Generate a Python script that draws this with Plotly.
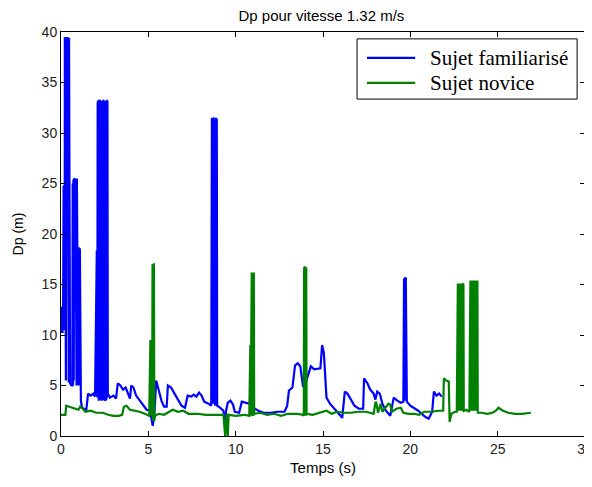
import plotly.graph_objects as go

# Sujet familiarise (bleu) : temps (s) et Dp (m)
blue_t = [0.00, 0.03, 0.06, 0.09, 0.12, 0.15, 0.18, 0.21,
          0.22, 0.24, 0.26, 0.28, 0.30, 0.32, 0.34, 0.36, 0.38, 0.40, 0.42, 0.44, 0.46, 0.48, 0.50, 0.52,
          0.60, 0.65,
          0.67, 0.69, 0.71, 0.73, 0.75, 0.77, 0.79, 0.81, 0.83, 0.85, 0.87, 0.89, 0.91, 0.93,
          0.96, 0.98, 1.00, 1.02, 1.04, 1.06, 1.08, 1.10, 1.12, 1.14,
          1.20, 1.30, 1.45, 1.55, 1.70, 1.85, 1.95,
          2.05, 2.08, 2.10, 2.12, 2.14, 2.16, 2.18, 2.20, 2.22, 2.24, 2.26, 2.28, 2.30, 2.32, 2.34, 2.36,
          2.38, 2.40, 2.42, 2.44, 2.46, 2.48, 2.50, 2.52, 2.54, 2.56, 2.58, 2.60, 2.62, 2.64, 2.66,
          2.68, 2.80, 3.00, 3.15, 3.25, 3.40, 3.55, 3.70, 3.85, 3.95, 4.02, 4.15,
          4.30, 4.50, 4.70, 4.90, 5.10, 5.25, 5.35, 5.45, 5.60, 5.75, 5.90, 6.05, 6.12, 6.30, 6.50, 6.70,
          6.90, 7.10, 7.25, 7.45, 7.60, 7.75, 7.90, 8.05, 8.20, 8.45, 8.60,
          8.64, 8.66, 8.68, 8.70, 8.72, 8.74, 8.76, 8.78, 8.80, 8.82, 8.84, 8.86, 8.88, 8.90, 8.92, 8.94,
          9.10, 9.30, 9.40, 9.45, 9.55, 9.70, 9.85, 9.95, 10.20, 10.35, 10.55, 10.80, 11.00, 11.30,
          11.60, 12.00, 12.40, 12.80, 12.95, 13.05, 13.25, 13.40, 13.55, 13.70, 13.85, 14.00, 14.30, 14.50,
          14.85, 14.95, 15.05, 15.20, 15.40, 15.60, 15.85, 16.10, 16.25, 16.40, 16.60, 16.80, 17.05, 17.30,
          17.35, 17.55, 17.70, 17.90, 18.00, 18.10, 18.25, 18.40, 18.60, 18.85, 19.05, 19.25, 19.45, 19.60,
          19.64, 19.67, 19.70, 19.74, 19.77, 19.80, 20.00, 20.20, 20.45, 20.65, 20.85, 21.05, 21.25, 21.35,
          21.50, 21.65, 21.80]
blue_dp = [12.0, 10.2, 12.8, 10.2, 12.5, 24.8, 10.5, 12.0,
           39.5, 5.5, 39.5, 5.5, 39.5, 24.0, 39.5, 24.0, 39.5, 5.3, 39.5, 5.3, 39.4, 5.2, 39.4, 5.2,
           5.0, 5.0,
           25.0, 5.0, 25.4, 5.5, 25.4, 18.0, 25.5, 18.0, 25.5, 5.0, 25.5, 5.0, 25.5, 18.7,
           18.7, 5.0, 18.7, 5.0, 18.7, 5.0, 18.6, 4.0, 18.5, 3.5,
           2.8, 2.7, 2.6, 4.2, 4.0, 4.2, 3.9,
           18.4, 3.8, 33.0, 3.5, 33.2, 3.5, 33.0, 3.6, 33.3, 3.6, 33.2, 3.8, 33.2, 3.5, 33.0,
           3.5, 33.2, 3.6, 33.3, 3.6, 33.2, 3.8, 33.2, 3.5, 33.0, 3.6, 33.2, 3.6, 33.3, 3.8, 33.2,
           4.2, 3.8, 4.0, 3.7, 5.2, 5.0, 4.6, 4.8, 4.2, 3.7, 5.0, 4.8,
           4.0, 3.5, 3.0, 2.6, 2.5, 1.0, 2.2, 5.5, 4.5, 3.5, 2.9, 2.9, 5.0, 4.8, 4.2, 3.6,
           3.0, 2.8, 4.0, 3.9, 4.1, 3.9, 4.3, 4.0, 3.4, 3.2, 3.0,
           31.5, 16.0, 31.4, 3.2, 31.4, 16.0, 31.5, 3.2, 31.4, 3.0, 31.4, 16.0, 31.5, 3.2, 31.4, 3.0,
           2.8, 2.5, 1.0, 2.5, 3.3, 3.5, 3.1, 2.4, 2.3, 3.4, 3.3, 3.2, 2.8, 2.5,
           2.3, 2.3, 2.4, 2.4, 3.0, 4.5, 4.8, 7.0, 7.2, 6.9, 5.0, 5.2, 6.9, 6.6,
           6.7, 9.0, 8.2, 3.8, 3.2, 2.8, 2.2, 1.8, 4.4, 4.2, 3.6, 3.0, 2.7, 2.7,
           5.7, 5.2, 4.6, 4.2, 3.6, 4.4, 4.2, 3.2, 2.5, 2.0, 3.8, 3.5, 3.3, 3.4,
           15.6, 3.5, 15.7, 15.6, 9.3, 3.4, 3.0, 2.8, 2.5, 2.2, 1.9, 1.7, 2.4, 4.4,
           4.0, 4.2, 3.9]

# Sujet novice (vert) : temps (s) et Dp (m)
green_t = [0.00, 0.25, 0.30, 0.50, 0.75, 1.00, 1.10, 1.25, 1.40, 1.70, 2.00, 2.40, 2.70, 3.00, 3.30, 3.50,
           3.60, 3.75, 3.95, 4.20, 4.50, 4.80, 5.05,
           5.12, 5.14, 5.16, 5.18, 5.20, 5.22, 5.24, 5.26, 5.28, 5.30, 5.32, 5.34, 5.36, 5.38,
           5.60, 5.90, 6.10, 6.40, 6.70, 7.00, 7.30, 7.80, 8.30, 8.80, 9.30, 9.40, 9.50, 9.55, 9.60,
           10.00, 10.50, 10.78,
           10.80, 10.82, 10.84, 10.86, 10.88, 10.90, 10.92, 10.94, 10.96, 10.98, 11.00, 11.02, 11.04, 11.06,
           11.40, 11.80, 12.20, 12.60, 13.00, 13.50, 13.86,
           13.88, 13.90, 13.92, 13.94, 13.96, 13.98, 14.00, 14.02, 14.04, 14.06,
           14.40, 14.80, 15.20, 15.50, 15.80, 16.20, 16.60, 17.00, 17.40, 17.70, 17.90,
           18.00, 18.05, 18.15, 18.30, 18.40, 18.75, 18.85, 18.95, 19.20, 19.45, 19.60, 19.90, 20.20, 20.50,
           20.80, 21.20, 21.60, 21.88, 21.92, 22.05, 22.20, 22.25, 22.35, 22.55, 22.66,
           22.68, 22.70, 22.72, 22.74, 22.76, 22.78, 22.80, 22.82, 22.84, 22.86, 22.88, 22.90, 22.92, 22.94,
           22.96, 22.98, 23.00, 23.02, 23.04, 23.06, 23.20, 23.38,
           23.40, 23.42, 23.44, 23.46, 23.48, 23.50, 23.52, 23.54, 23.56, 23.58, 23.60, 23.62, 23.64, 23.66,
           23.68, 23.70, 23.72, 23.74, 23.76, 23.78, 23.80, 23.82, 23.84, 23.86,
           24.10, 24.40, 24.70, 24.90, 25.05, 25.30, 25.60, 26.00, 26.40, 26.90]
green_dp = [2.1, 2.1, 3.0, 2.9, 2.7, 2.6, 2.9, 2.7, 2.4, 2.5, 2.3, 2.3, 2.1, 2.0, 2.0, 2.1,
            2.9, 3.0, 2.6, 2.5, 2.4, 2.2, 2.0,
            9.5, 2.0, 9.5, 2.0, 9.5, 2.0, 17.0, 1.5, 17.0, 2.0, 17.1, 1.5, 17.0, 2.0,
            2.2, 2.1, 2.3, 2.6, 2.4, 2.5, 2.2, 2.2, 2.1, 2.1, 2.1, 0.0, 2.2, 0.0, 2.1,
            2.0, 2.1, 2.0,
            9.0, 2.0, 9.0, 2.0, 16.1, 2.0, 16.2, 2.1, 16.1, 2.0, 16.1, 2.0, 16.2, 2.2,
            2.3, 2.1, 2.2, 2.0, 2.2, 2.2, 2.1,
            16.7, 2.0, 16.7, 2.1, 16.8, 2.0, 16.7, 2.0, 16.7, 2.2,
            2.1, 2.3, 2.5, 2.2, 2.4, 2.3, 2.3, 2.4, 2.4, 2.3, 2.2,
            3.3, 3.3, 2.3, 3.2, 2.4, 3.2, 3.1, 2.4, 2.7, 2.8, 2.3, 2.2, 2.2, 2.1,
            2.4, 2.4, 2.5, 2.5, 5.7, 5.5, 5.4, 1.4, 2.2, 2.4, 2.4,
            15.1, 2.5, 15.1, 2.5, 15.1, 2.5, 15.1, 2.5, 15.0, 2.5, 15.1, 2.5, 15.1, 2.5,
            15.1, 2.5, 15.1, 8.5, 15.0, 2.5, 2.6, 2.4,
            15.3, 2.5, 15.4, 2.5, 15.3, 2.5, 15.4, 2.5, 15.3, 2.5, 15.4, 2.5, 15.3, 2.5,
            15.4, 2.5, 15.3, 2.5, 15.4, 2.5, 15.3, 2.5, 15.4, 2.3,
            2.3, 2.2, 2.3, 2.5, 2.8, 2.5, 2.3, 2.2, 2.2, 2.3]

series_names = ['Sujet familiarisé', 'Sujet novice']
series_colors = ['#0000ff', '#008000']

assert len(blue_t) == len(blue_dp), (len(blue_t), len(blue_dp))
assert len(green_t) == len(green_dp), (len(green_t), len(green_dp))

fig = go.Figure()
fig.add_trace(go.Scatter(x=blue_t, y=blue_dp, mode='lines', name=series_names[0],
                         line=dict(color=series_colors[0], width=2.2)))
fig.add_trace(go.Scatter(x=green_t, y=green_dp, mode='lines', name=series_names[1],
                         line=dict(color=series_colors[1], width=2.2)))

# legende a la MATLAB : cadre, segments et textes en coordonnees paper
fig.add_shape(type='rect', xref='paper', yref='paper', x0=0.565, x1=0.985, y0=0.834, y1=0.983,
              line=dict(color='black', width=1), fillcolor='white', layer='above')
for i, yy in enumerate([0.936, 0.874]):
    fig.add_shape(type='line', xref='paper', yref='paper', x0=0.584, x1=0.676, y0=yy, y1=yy,
                  line=dict(color=series_colors[i], width=2.2), layer='above')
    fig.add_annotation(xref='paper', yref='paper', x=0.700, y=yy, xanchor='left', yanchor='middle',
                       text=series_names[i], showarrow=False,
                       font=dict(family='Liberation Serif, Times New Roman', size=21, color='black'))

axis_style = dict(showgrid=False, zeroline=False, showline=True, linecolor='black', linewidth=1,
                  mirror='ticks', ticks='inside', ticklen=5, tickcolor='black', automargin=False,
                  ticklabeloverflow='allow',
                  tickfont=dict(family='Liberation Sans, Arial', size=14, color='#222'))

# la page a une marge de 8 px : on garde la hauteur dans la fenetre
fig.update_layout(
    width=592, height=471,
    paper_bgcolor='white', plot_bgcolor='white',
    showlegend=False,
    margin=dict(l=53, r=15, t=24, b=43),
    title=dict(text='Dp pour vitesse 1.32 m/s', x=0.497, xanchor='center', xref='paper',
               y=0.994, yanchor='top', automargin=False, pad=dict(t=0, b=0),
               font=dict(family='Liberation Sans, Arial', size=15, color='black')),
    xaxis=dict(range=[0, 30], dtick=5, title=dict(text='Temps (s)', standoff=6,
               font=dict(family='Liberation Sans, Arial', size=15, color='black')), **axis_style),
    yaxis=dict(range=[0, 40], dtick=5, title=dict(text='Dp (m)', standoff=14,
               font=dict(family='Liberation Sans, Arial', size=14, color='black')), **axis_style),
)

fig.write_html("out.html")
